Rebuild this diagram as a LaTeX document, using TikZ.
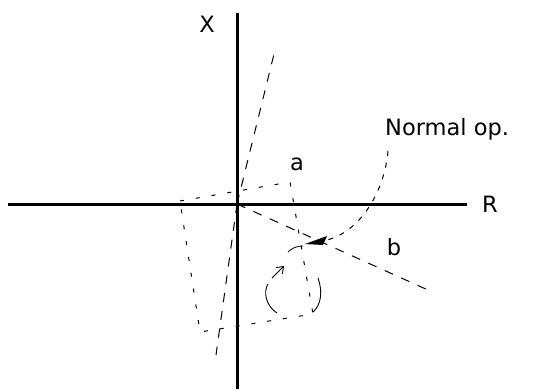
\documentclass[tikz,border=0pt]{standalone}
\usepackage{fontspec}
\setmainfont{DejaVu Sans}
\usetikzlibrary{arrows.meta,calc}

\tikzset{
  axis/.style={line width=3pt},
  phasor/.style={line width=1pt,dash pattern=on 9pt off 9pt},
  frame/.style={line width=1pt,dash pattern=on 4pt off 12pt},
  opcurve/.style={line width=1pt,dash pattern=on 5pt off 7pt},
  lbl/.style={font=\fontsize{22.5}{24}\selectfont,inner sep=0pt}
}

\begin{document}
\begin{tikzpicture}[x=1pt,y=-1pt]
  \useasboundingbox (0,0) rectangle (533,391);
  % axes
  \coordinate (O) at (237,204);
  \coordinate (Xtop) at (237,13);
  \coordinate (Xbot) at (237,389);
  \coordinate (Rleft) at (8,204);
  \coordinate (Rright) at (467,204);
  \draw[axis] (Rleft) -- (Rright);
  \draw[axis] (Xbot) -- (Xtop);
  \node[lbl] (labX) at (207,24) {X};
  \node[lbl] (labR) at (490,204) {R};

  % phasor lines
  \coordinate (aend) at (275,50);
  \coordinate (atail) at (216,355);
  \coordinate (bend) at (428,290);
  \draw[phasor] (O) -- (aend);
  \draw[phasor] (O) -- (atail);
  \draw[phasor] (O) -- (bend);
  \node[lbl] (laba) at (297,164) {a};
  \node[lbl] (labb) at (394,247) {b};

  % rotated frame
  \coordinate (f1) at (180,201);
  \coordinate (f2) at (290,182);
  \coordinate (f3) at (313,314);
  \coordinate (f4) at (200,332);
  \draw[frame] (f1) -- (f2) -- (f3) -- (f4) -- cycle;

  % normal operating point trajectory
  \node[lbl,anchor=base west] (labN) at (385,135) {Normal op.};
  \coordinate (tip) at (305,244);
  \draw[opcurve] ($(labN.south west)+(3,11)$)
    .. controls (385,190) and (360,235) .. (322,241);
  \fill (tip) -- (327,236) -- (323,245) -- cycle;
  \draw[line width=0.8pt] (288,252) .. controls (292,248) and (297,246) .. (303,246);

  % rotation sign
  \draw[line width=0.9pt] (277,313) .. controls (266,306) and (263,292) .. (268,284);
  \draw[line width=0.9pt] (318,278) .. controls (323,292) and (321,305) .. (313,312);
  \draw[line width=0.9pt,-{Straight Barb[length=6pt,width=9pt]}] (272,278) -- (284,266);
\end{tikzpicture}
\end{document}
